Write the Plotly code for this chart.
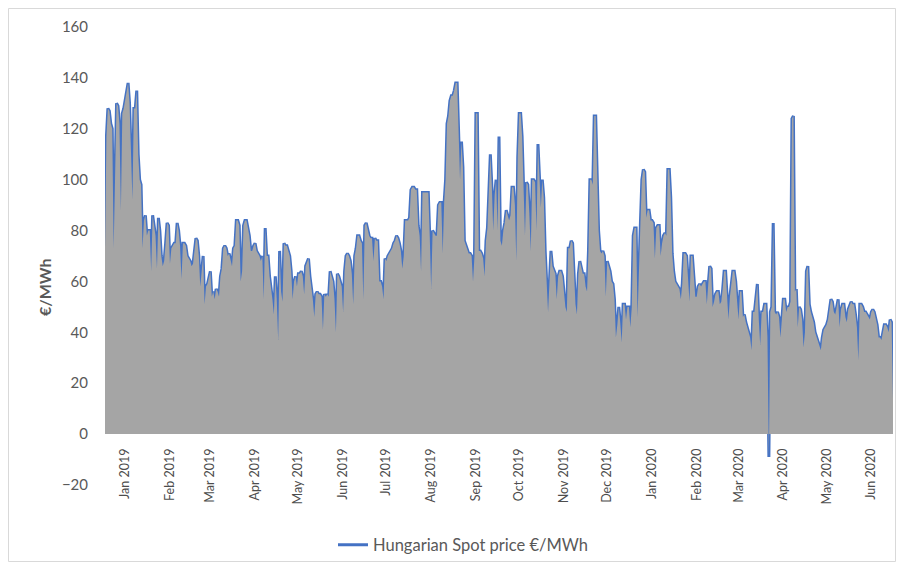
import pandas as pd
import plotly.graph_objects as go

# Daily Hungarian spot price (€/MWh), one list per month
jan_2019 = [73, 117, 128, 127, 122, 120, 73, 110, 130, 129, 122, 88, 126, 128, 131, 134, 138, 130, 108, 92,
            128, 128, 135, 110, 100, 98, 73, 84, 86, 78, 80]
feb_2019 = [80, 64, 86, 82, 78, 65, 85, 80, 70, 66, 68, 75, 83, 82, 67, 73, 74, 75, 75, 83, 80, 74, 61, 75,
            75, 74, 70, 69]
mar_2019 = [68, 66, 67, 72, 77, 76, 70, 58, 66, 70, 51, 58, 59, 62, 64, 54, 56, 53, 57, 56, 54, 62, 65, 73,
            74, 73, 70, 71, 68, 66, 73]
apr_2019 = [74, 84, 84, 82, 60, 64, 82, 84, 84, 81, 78, 72, 72, 74, 75, 72, 71, 70, 68, 70, 53, 81, 70, 70,
            62, 58, 53, 47, 62, 53]
may_2019 = [37, 72, 56, 52, 75, 74, 74, 72, 70, 64, 53, 60, 62, 58, 63, 63, 64, 62, 55, 66, 68, 69, 62, 58,
            53, 46, 55, 56, 55, 55, 54]
jun_2019 = [41, 55, 54, 55, 54, 64, 62, 60, 53, 40, 63, 62, 60, 58, 48, 64, 70, 71, 70, 68, 63, 51, 70, 73,
            78, 78, 76, 75, 53, 82]
jul_2019 = [83, 80, 78, 77, 77, 68, 77, 76, 76, 60, 60, 58, 53, 69, 68, 70, 71, 72, 73, 75, 76, 78, 77, 75,
            72, 65, 70, 84, 84, 84, 85]
aug_2019 = [96, 97, 97, 96, 96, 82, 78, 64, 95, 95, 95, 95, 95, 78, 57, 80, 79, 78, 78, 90, 91, 91, 71, 91,
            100, 122, 125, 131, 133, 133, 135]
sep_2019 = [138, 138, 117, 100, 115, 105, 76, 74, 72, 71, 71, 70, 60, 70, 126, 126, 72, 72, 71, 69, 62, 76,
            81, 100, 110, 98, 80, 94, 100, 80]
oct_2019 = [117, 76, 74, 80, 83, 88, 86, 84, 86, 97, 97, 90, 68, 109, 126, 126, 117, 100, 78, 99, 98, 87, 72,
            100, 100, 99, 80, 114, 100, 89, 100]
nov_2019 = [93, 72, 60, 48, 60, 72, 66, 64, 63, 53, 62, 64, 64, 62, 54, 50, 48, 73, 73, 76, 75, 60, 51, 47,
            63, 68, 66, 63, 63, 58]
dec_2019 = [56, 72, 100, 100, 98, 125, 125, 100, 80, 72, 71, 72, 70, 54, 68, 66, 64, 60, 59, 53, 38, 43, 50,
            44, 36, 51, 51, 45, 50, 50, 42]
jan_2020 = [50, 78, 81, 81, 46, 70, 83, 100, 104, 103, 85, 88, 88, 84, 84, 83, 69, 81, 82, 82, 70, 75, 78,
            79, 78, 104, 104, 93, 71, 64, 60]
feb_2020 = [59, 58, 57, 53, 59, 71, 71, 70, 61, 52, 70, 70, 62, 54, 54, 58, 59, 58, 59, 60, 60, 51, 59, 66,
            65, 50, 52, 55, 56]
mar_2020 = [56, 51, 52, 57, 64, 64, 55, 45, 54, 58, 64, 64, 60, 52, 45, 56, 56, 46, 47, 44, 42, 40, 38, 33,
            48, 48, 55, 59, 45, 35, 48]
apr_2020 = [48, 51, 51, 38, -9, 48, 50, 83, 48, 47, 48, 46, 38, 45, 53, 53, 48, 50, 50, 52, 124, 125, 56, 57,
            42, 50, 49, 45, 34, 40]
may_2020 = [64, 66, 51, 48, 46, 44, 40, 38, 36, 35, 33, 38, 41, 42, 43, 45, 50, 53, 52, 48, 47, 51, 53, 42,
            49, 51, 51, 46, 44, 49, 51]
jun_2020 = [52, 51, 51, 47, 42, 29, 51, 51, 50, 48, 48, 47, 46, 45, 48, 49, 48, 46, 43, 38, 38, 37, 40, 43,
            43, 42, 40, 45, 44, 14]

months = [jan_2019, feb_2019, mar_2019, apr_2019, may_2019, jun_2019, jul_2019, aug_2019, sep_2019,
          oct_2019, nov_2019, dec_2019, jan_2020, feb_2020, mar_2020, apr_2020, may_2020, jun_2020]
prices = [v for m in months for v in m]
dates = pd.date_range("2019-01-01", "2020-06-30", freq="D")

tick_labels = ["Jan 2019", "Feb 2019", "Mar 2019", "Apr 2019", "May 2019", "Jun 2019", "Jul 2019",
               "Aug 2019", "Sep 2019", "Oct 2019", "Nov 2019", "Dec 2019", "Jan 2020", "Feb 2020",
               "Mar 2020", "Apr 2020", "May 2020", "Jun 2020"]
tick_dates = pd.date_range("2019-01-01", "2020-06-01", freq="MS") + pd.Timedelta(days=14)

series_name = "Hungarian Spot price €/MWh"
BLUE = "#4472C4"
GRAY = "#A5A5A5"
TXT = "#595959"
FONT = "Lato"

fig = go.Figure()
fig.add_trace(go.Scatter(x=dates, y=prices, mode="lines", name=series_name,
                         line=dict(color=BLUE, width=3), hoverinfo="skip"))
fig.add_trace(go.Scatter(x=dates, y=prices, mode="lines", fill="tozeroy", fillcolor=GRAY,
                         line=dict(color=GRAY, width=0), showlegend=False, hoverinfo="skip"))

# page offset of the figure (browser body margin)
OFF = 8
W, H = 904 - 2 * OFF, 570 - 2 * OFF
# plot area in page pixels: x 105..893, y 27..485
L, R, T, B = 105 - OFF, (904 - 893) - OFF, 27 - OFF, (570 - 485) - OFF
pw, ph = W - L - R, H - T - B
ymin, ymax = -20, 160
zero_pos = (0 - ymin) / (ymax - ymin)

def px_x(px):
    return (px - OFF - L) / pw

def px_y(py):
    return (H - B - (py - OFF)) / ph

fig.update_layout(
    width=W, height=H,
    margin=dict(l=L, r=R, t=T, b=B, autoexpand=False),
    paper_bgcolor="white", plot_bgcolor="white",
    font=dict(family=FONT, color=TXT),
    showlegend=True,
    legend=dict(orientation="h", x=px_x(333), y=px_y(545), xanchor="left", yanchor="middle",
                font=dict(size=16.5, color=TXT, family=FONT), bgcolor="rgba(0,0,0,0)",
                itemwidth=30),
    xaxis=dict(type="date", range=[dates[0], dates[-1]], tickmode="array",
               tickvals=tick_dates, ticktext=tick_labels, tickangle=-90,
               tickfont=dict(size=12.5, color="#4d4d4d", family=FONT),
               showgrid=False, zeroline=False, showline=False, ticks="",
               anchor="free", position=zero_pos, ticklabelstandoff=11, automargin=False),
    yaxis=dict(range=[ymin, ymax], dtick=20, tick0=0, showgrid=False, zeroline=False, showline=False,
               ticks="", tickfont=dict(size=15, color=TXT, family=FONT), ticklabelstandoff=16,
               automargin=False),
    annotations=[dict(text="<b>€/MWh</b>", x=px_x(44), y=px_y(287), xref="paper", yref="paper",
                      xanchor="center", yanchor="middle",
                      textangle=-90, showarrow=False, font=dict(size=16, color=TXT, family=FONT))],
    shapes=[dict(type="rect", xref="paper", yref="paper", x0=px_x(8.5), x1=px_x(895.5),
                 y0=px_y(561.5), y1=px_y(8.5), line=dict(color="#D9D9D9", width=1), layer="below")],
)

fig.write_html("out.html")
